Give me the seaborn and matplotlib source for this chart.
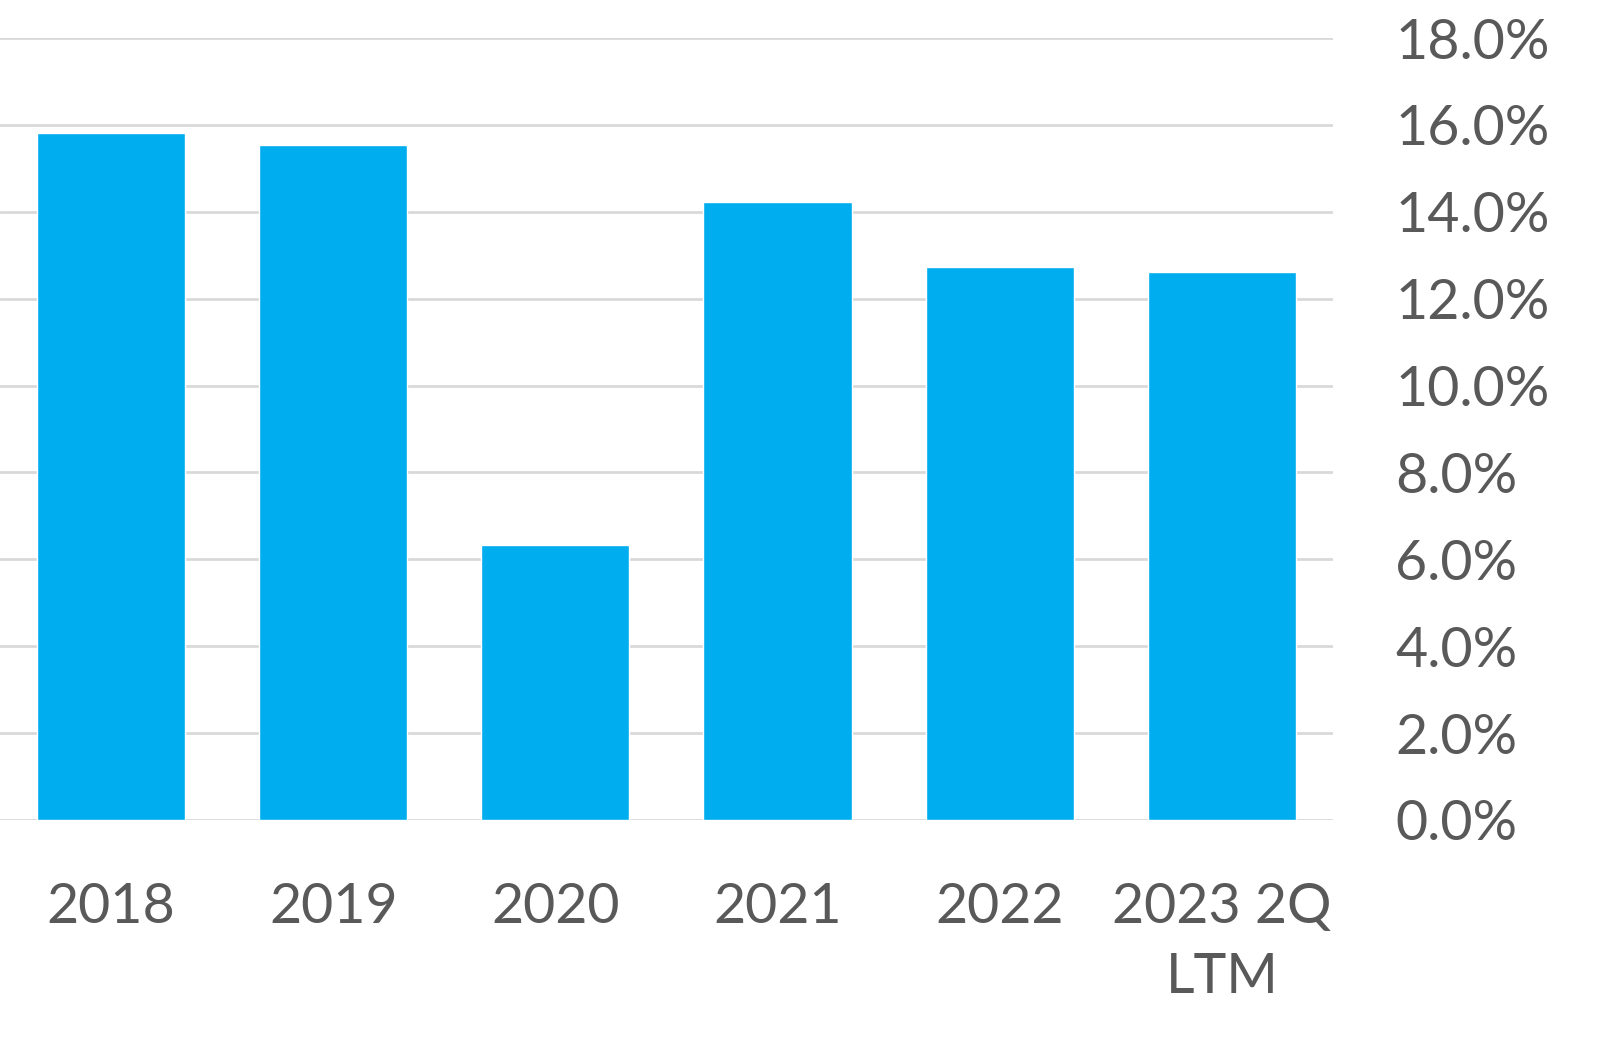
import seaborn as sns
import matplotlib.pyplot as plt
import pandas as pd
from matplotlib.ticker import FuncFormatter

years = ['2018', '2019', '2020', '2021', '2022', '2023 2Q\nLTM']
values = [15.81, 15.54, 6.33, 14.23, 12.73, 12.61]

sns.set_style('white')
plt.rcParams['font.family'] = ['Lato', 'DejaVu Sans']

df = pd.DataFrame({'year': years, 'value': values})
fig = plt.figure(figsize=(16.06, 10.44), dpi=100)
ax = fig.add_axes([0.0, 0.2146, 0.83, 0.749])
sns.barplot(data=df, x='year', y='value', color='#00AEEF', width=0.667,
            saturation=1, ax=ax, zorder=3)
ax.set_ylim(0, 18)
ax.set_yticks(range(0, 19, 2))
ax.yaxis.tick_right()
ax.yaxis.set_major_formatter(FuncFormatter(lambda v, _: f'{v:.1f}%'))
ax.grid(axis='y', color='#d9d9d9', linewidth=2, zorder=0)
for s in ax.spines.values():
    s.set_visible(False)
ax.tick_params(axis='both', length=0, labelsize=40, colors='#595959')
ax.tick_params(axis='x', pad=45)
ax.tick_params(axis='y', pad=45)
for lbl in ax.get_xticklabels():
    lbl.set_linespacing(1.45)
ax.set_xlabel('')
ax.set_ylabel('')
plt.savefig('out.png', dpi=100)
